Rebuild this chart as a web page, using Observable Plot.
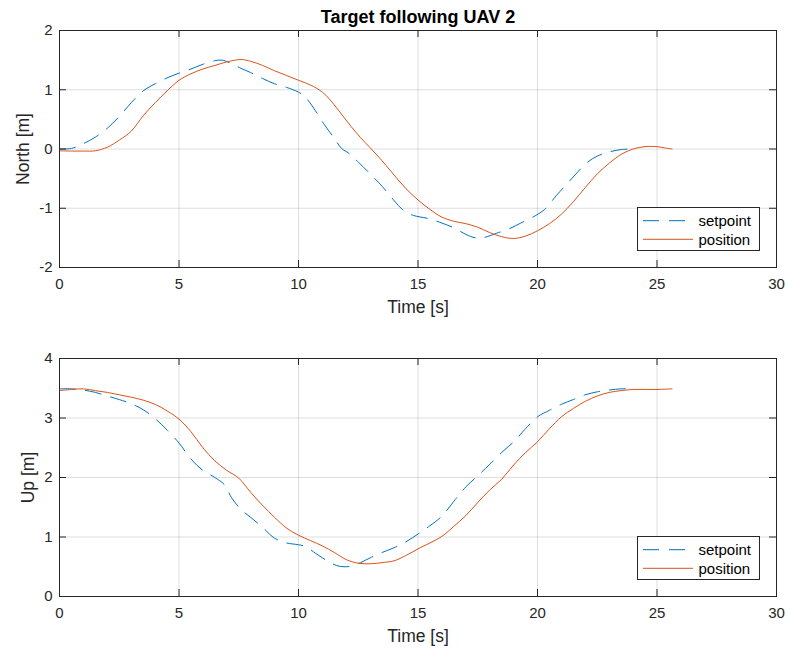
<!DOCTYPE html>
<html>
<head>
<meta charset="utf-8">
<script src="https://cdn.jsdelivr.net/npm/d3@7"></script>
<script src="https://cdn.jsdelivr.net/npm/@observablehq/plot@0.6"></script>
<style>
  html, body { margin: 0; padding: 0; background: #fff; }
  #chart svg { display: block; }
</style>
</head>
<body>
<div id="chart"></div>
<script>
// ---- Data ----
const chartTitle = "Target following UAV 2";
const xLabel = "Time [s]";
const seriesNames = ["setpoint", "position"];
const xTicks = [0, 5, 10, 15, 20, 25, 30];
const northTicks = [-2, -1, 0, 1, 2];
const upTicks = [0, 1, 2, 3, 4];

// North – setpoint
const northSetpointT = [0, 0.5, 1.0, 1.5, 2.0, 2.5, 3.0, 3.5, 4.0, 4.5, 5.0, 5.5, 6.0, 6.5, 6.8, 7.1, 7.6, 8.0, 8.5, 9.0, 9.5, 10.0, 10.3, 10.7, 11.1, 11.5, 11.8, 12.1, 12.5, 13.0, 13.5, 14.0, 14.4, 14.8, 15.5, 16.0, 16.5, 17.0, 17.4, 17.8, 18.3, 18.8, 19.3, 19.8, 20.3, 20.8, 21.3, 21.7, 22.1, 22.5, 23.0, 23.5, 24.0];
const northSetpoint = [0, 0.01, 0.09, 0.2, 0.35, 0.55, 0.78, 0.98, 1.1, 1.2, 1.28, 1.35, 1.43, 1.49, 1.5, 1.46, 1.36, 1.29, 1.19, 1.1, 1.04, 0.96, 0.87, 0.65, 0.4, 0.18, 0.01, -0.07, -0.22, -0.42, -0.63, -0.87, -1.04, -1.12, -1.18, -1.25, -1.33, -1.44, -1.5, -1.49, -1.42, -1.35, -1.25, -1.15, -1.02, -0.78, -0.56, -0.38, -0.22, -0.12, -0.05, -0.01, 0];

// North – position
const northPositionT = [0, 0.5, 1.0, 1.5, 2.0, 2.5, 3.0, 3.5, 4.0, 4.5, 5.0, 5.5, 6.0, 6.5, 7.0, 7.6, 8.0, 8.5, 9.0, 9.5, 10.0, 10.5, 11.0, 11.3, 11.7, 12.2, 12.6, 13.0, 13.5, 14.0, 14.5, 15.0, 15.5, 16.0, 16.5, 17.0, 17.5, 18.0, 18.5, 19.0, 19.5, 20.0, 20.5, 21.0, 21.5, 22.0, 22.5, 23.0, 23.5, 24.0, 24.5, 25.0, 25.3, 25.63];
const northPosition = [-0.03, -0.035, -0.035, -0.03, 0.03, 0.15, 0.3, 0.56, 0.78, 0.98, 1.16, 1.27, 1.35, 1.41, 1.47, 1.51, 1.48, 1.41, 1.32, 1.24, 1.16, 1.08, 0.96, 0.84, 0.64, 0.38, 0.19, 0.02, -0.2, -0.44, -0.67, -0.86, -1.02, -1.15, -1.22, -1.26, -1.32, -1.41, -1.48, -1.51, -1.47, -1.38, -1.26, -1.1, -0.89, -0.65, -0.42, -0.24, -0.09, 0.0, 0.04, 0.04, 0.02, 0.0];

// Up – setpoint
const upSetpointT = [0, 0.5, 1.0, 1.5, 2.0, 2.5, 3.0, 3.5, 4.0, 4.5, 5.0, 5.5, 6.0, 6.5, 6.9, 7.2, 7.6, 8.0, 8.5, 9.0, 9.5, 10.0, 10.3, 10.7, 11.2, 11.6, 11.9, 12.2, 12.6, 13.0, 13.5, 14.0, 14.5, 15.0, 15.5, 16.0, 16.5, 17.0, 17.5, 18.0, 18.5, 19.0, 19.5, 20.0, 20.5, 21.0, 21.5, 22.0, 22.5, 23.0, 23.5, 24.0];
const upSetpoint = [3.49, 3.49, 3.47, 3.43, 3.37, 3.31, 3.24, 3.14, 2.99, 2.8, 2.58, 2.31, 2.12, 2.0, 1.88, 1.66, 1.46, 1.33, 1.16, 0.98, 0.9, 0.87, 0.84, 0.73, 0.6, 0.52, 0.5, 0.51, 0.57, 0.65, 0.74, 0.82, 0.92, 1.05, 1.19, 1.35, 1.6, 1.84, 2.03, 2.22, 2.42, 2.6, 2.82, 3.02, 3.13, 3.23, 3.31, 3.39, 3.44, 3.47, 3.49, 3.49];

// Up – position
const upPositionT = [0, 0.5, 1.0, 1.5, 2.0, 2.5, 3.0, 3.5, 4.0, 4.5, 5.0, 5.5, 6.0, 6.5, 7.0, 7.5, 8.0, 8.5, 9.0, 9.5, 10.0, 10.5, 11.0, 11.5, 12.0, 12.5, 13.0, 13.5, 14.0, 14.5, 15.0, 15.5, 16.0, 16.5, 17.0, 17.5, 18.0, 18.5, 19.0, 19.5, 20.0, 20.5, 21.0, 21.5, 22.0, 22.5, 23.0, 23.5, 24.0, 24.5, 25.0, 25.63];
const upPosition = [3.46, 3.48, 3.49, 3.46, 3.43, 3.39, 3.35, 3.3, 3.23, 3.12, 2.98, 2.77, 2.5, 2.28, 2.12, 1.99, 1.75, 1.53, 1.33, 1.15, 1.03, 0.94, 0.85, 0.74, 0.62, 0.56, 0.55, 0.57, 0.6, 0.69, 0.8, 0.9, 1.01, 1.18, 1.36, 1.58, 1.79, 1.97, 2.21, 2.42, 2.6, 2.82, 3.02, 3.16, 3.28, 3.37, 3.43, 3.46, 3.48, 3.48, 3.48, 3.49];

// ---- Styling ----
const BLUE = "#0072BD";
const ORANGE = "#D95319";
const AXIS = "#262626";
const FONT = "'Liberation Sans', Arial, Helvetica, sans-serif";
const TICK_LEN = 7;

const toRows = (ts, vs) => ts.map((t, i) => ({t, v: vs[i]}));
const plainNum = d => String(d);

function legendMark(index, scales, values, dims) {
  const {width, height, marginRight, marginBottom} = dims;
  const bw = 122, bh = 43;
  const x1 = width - marginRight - 17;
  const y1 = height - marginBottom - 17;
  const x0 = x1 - bw, y0 = y1 - bh;
  const g = d3.create("svg:g");
  g.append("rect")
    .attr("x", Math.round(x0) + 0.5).attr("y", Math.round(y0) + 0.5)
    .attr("width", bw).attr("height", bh)
    .attr("fill", "white").attr("stroke", AXIS).attr("stroke-width", 1);
  const rows = [
    {name: seriesNames[0], color: BLUE, dash: "16,10", dy: 13.7},
    {name: seriesNames[1], color: ORANGE, dash: null, dy: 32.3}
  ];
  for (const r of rows) {
    g.append("line")
      .attr("x1", x0 + 6).attr("x2", x0 + 56)
      .attr("y1", y0 + r.dy).attr("y2", y0 + r.dy)
      .attr("stroke", r.color).attr("stroke-width", 1)
      .attr("stroke-dasharray", r.dash);
    g.append("text")
      .attr("x", x0 + 61.5).attr("y", y0 + r.dy)
      .attr("dy", "0.35em")
      .attr("text-anchor", "start")
      .attr("font-family", FONT).attr("font-size", 15)
      .attr("fill", "#000")
      .text(r.name);
  }
  return g.node();
}

function panel({yLabel, yTicks, yDomain, sp, pos, marginTop, marginBottom, height, yLabelDx, title}) {
  const plotH = height - marginTop - marginBottom;
  const plotW = 787 - 59 - 11;
  const marks = [
    Plot.gridX(xTicks, {stroke: "#262626", strokeOpacity: 0.15, strokeWidth: 1}),
    Plot.gridY(yTicks, {stroke: "#262626", strokeOpacity: 0.15, strokeWidth: 1}),
    Plot.line(sp, {x: "t", y: "v", stroke: BLUE, strokeWidth: 1, strokeDasharray: "16,10", curve: "catmull-rom"}),
    Plot.line(pos, {x: "t", y: "v", stroke: ORANGE, strokeWidth: 1, curve: "catmull-rom"}),
    // inward ticks on all four sides
    Plot.tickX(xTicks, {x: d => d, stroke: AXIS, strokeWidth: 1, insetTop: plotH - TICK_LEN}),
    Plot.tickX(xTicks, {x: d => d, stroke: AXIS, strokeWidth: 1, insetBottom: plotH - TICK_LEN}),
    Plot.tickY(yTicks, {y: d => d, stroke: AXIS, strokeWidth: 1, insetRight: plotW - TICK_LEN}),
    Plot.tickY(yTicks, {y: d => d, stroke: AXIS, strokeWidth: 1, insetLeft: plotW - TICK_LEN}),
    Plot.frame({stroke: AXIS, strokeWidth: 1}),
    Plot.axisX(xTicks, {tickSize: 0, tickPadding: 11, fontSize: 15, label: null, fill: AXIS, tickFormat: plainNum}),
    Plot.axisY(yTicks, {tickSize: 0, tickPadding: 7, fontSize: 15, label: null, fill: AXIS, tickFormat: plainNum}),
    Plot.text([xLabel], {frameAnchor: "bottom", dy: 40, lineAnchor: "middle", textAnchor: "middle", fontSize: 17.5, fill: AXIS}),
    Plot.text([yLabel], {frameAnchor: "left", dx: yLabelDx, rotate: -90, lineAnchor: "middle", textAnchor: "middle", fontSize: 17.5, fill: AXIS}),
    legendMark
  ];
  if (title) {
    marks.push(Plot.text([title], {frameAnchor: "top", dy: -13, lineAnchor: "middle", textAnchor: "middle", fontSize: 18, fontWeight: "bold", fill: "#000"}));
  }
  return Plot.plot({
    width: 787,
    height,
    marginLeft: 59,
    marginRight: 11,
    marginTop,
    marginBottom,
    x: {domain: [0, 30], label: null},
    y: {domain: yDomain, label: null},
    style: {fontFamily: FONT, fontSize: "15px", color: AXIS, background: "white", overflow: "visible"},
    marks
  });
}

const northPanel = panel({
  title: chartTitle,
  yLabel: "North [m]",
  yTicks: northTicks,
  yDomain: [-2, 2],
  sp: toRows(northSetpointT, northSetpoint),
  pos: toRows(northPositionT, northPosition),
  height: 326, marginTop: 30, marginBottom: 59,
  yLabelDx: -36
});
const upPanel = panel({
  yLabel: "Up [m]",
  yTicks: upTicks,
  yDomain: [0, 4],
  sp: toRows(upSetpointT, upSetpoint),
  pos: toRows(upPositionT, upPosition),
  height: 326, marginTop: 32, marginBottom: 56,
  yLabelDx: -31
});
const root = document.getElementById("chart");
root.appendChild(northPanel);
root.appendChild(upPanel);
</script>
</body>
</html>
